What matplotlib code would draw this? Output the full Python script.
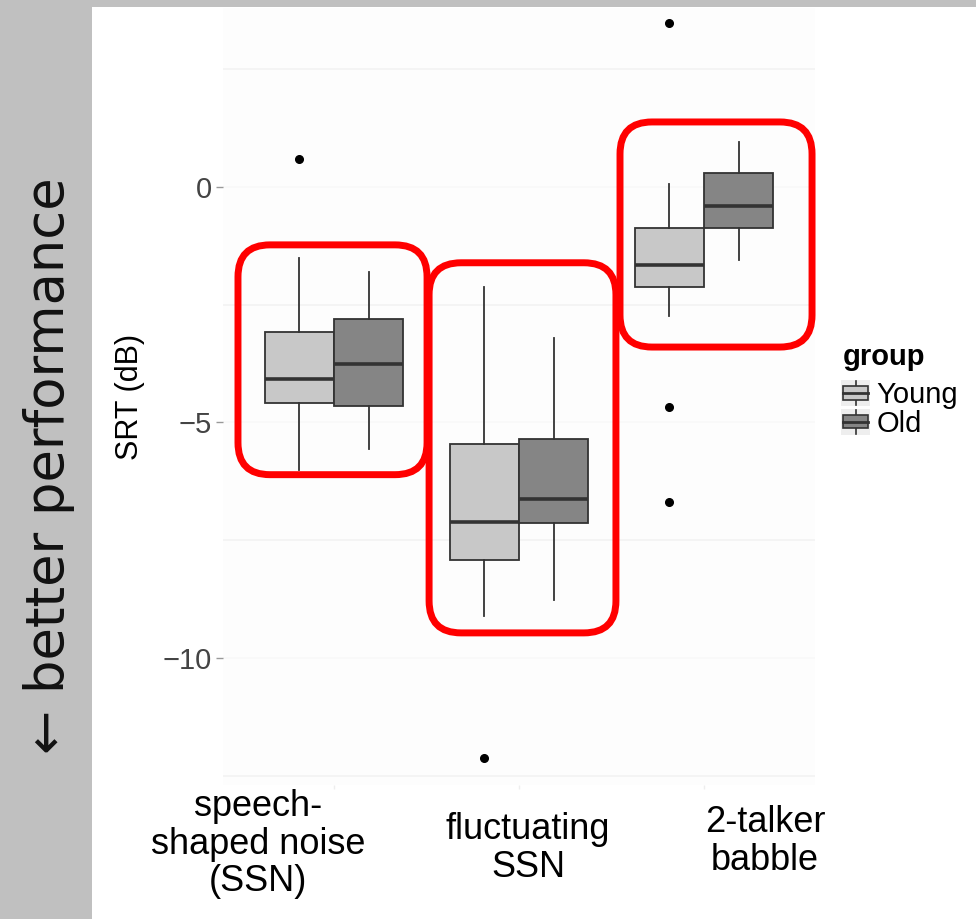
import matplotlib
matplotlib.use("Agg")
import matplotlib.pyplot as plt
from matplotlib.patches import Rectangle, FancyBboxPatch, Patch
from matplotlib.lines import Line2D
from matplotlib.legend_handler import HandlerBase

# data (SRT in dB)
conditions = ["speech-\nshaped noise\n(SSN)", "fluctuating\nSSN", "2-talker\nbabble"]
groups = ["Young", "Old"]

young_whislo = [-6.01, -9.12, -2.75]
young_q1 = [-4.59, -7.92, -2.13]
young_med = [-4.08, -7.12, -1.65]
young_q3 = [-3.09, -5.46, -0.88]
young_whishi = [-1.51, -2.12, 0.06]
young_fliers = [[0.60], [-12.12], [3.48, -4.68, -6.69]]

old_whislo = [-5.56, -8.77, -1.56]
old_q1 = [-4.66, -7.14, -0.87]
old_med = [-3.77, -6.62, -0.40]
old_q3 = [-2.80, -5.36, 0.29]
old_whishi = [-1.80, -3.20, 0.96]
old_fliers = [[], [], []]

yticks = [0, -5, -10]
ytick_labels = ["0", "\u22125", "\u221210"]

# red highlight frames drawn on the slide (data coords: x0, x1, y0, y1)
highlights = [(0.481, 1.503, -6.11, -1.23),
              (1.514, 2.524, -9.47, -1.61),
              (2.546, 3.584, -3.40, 1.38)]

colors = {"Young": "#c8c8c8", "Old": "#858585"}
edge = "#333333"

W, H = 976, 919
fig = plt.figure(figsize=(W / 100, H / 100), dpi=100)
fig.patch.set_facecolor("white")

ax = fig.add_axes([223 / W, 1 - 785 / H, (815 - 223) / W, (785 - 8) / H])
ax.set_facecolor("#fdfdfd")
ax.set_xlim(0.4, 3.6)
ax.set_ylim(-12.7, 3.8)

stats, pos, fills = [], [], []
for i in range(len(conditions)):
    for g, off in (("Young", -0.1875), ("Old", 0.1875)):
        if g == "Young":
            s = dict(med=young_med[i], q1=young_q1[i], q3=young_q3[i],
                     whislo=young_whislo[i], whishi=young_whishi[i], fliers=young_fliers[i])
        else:
            s = dict(med=old_med[i], q1=old_q1[i], q3=old_q3[i],
                     whislo=old_whislo[i], whishi=old_whishi[i], fliers=old_fliers[i])
        stats.append(s)
        pos.append(i + 1 + off)
        fills.append(colors[g])

bp = ax.bxp(stats, positions=pos, widths=0.375, patch_artist=True, showcaps=False,
            manage_ticks=False,
            boxprops=dict(edgecolor=edge, linewidth=1.3),
            medianprops=dict(color=edge, linewidth=2.6),
            whiskerprops=dict(color=edge, linewidth=1.3),
            flierprops=dict(marker="o", markerfacecolor="black", markeredgecolor="black",
                            markersize=5.5))
for patch, fc in zip(bp["boxes"], fills):
    patch.set_facecolor(fc)

for sp in ax.spines.values():
    sp.set_visible(False)

ax.set_yticks(yticks)
ax.set_yticklabels(ytick_labels, fontsize=21, color="#444444", family="Liberation Sans")
ax.set_yticks([2.5, -2.5, -7.5, -12.5], minor=True)
ax.tick_params(axis="y", which="major", length=5, width=1, color="#999999", pad=3)
ax.tick_params(axis="y", which="minor", length=0)
ax.set_xticks([1, 2, 3])
ax.set_xticklabels([])
ax.tick_params(axis="x", length=3, width=1, color="#eeeeee")
ax.grid(axis="y", which="minor", color="#f3f3f3", linewidth=1.2)
ax.grid(axis="y", which="major", color="#f9f9f9", linewidth=1.2)
ax.set_axisbelow(True)
ax.set_ylabel("SRT (dB)", fontsize=22, family="Liberation Sans", labelpad=13)


class BoxKey(HandlerBase):
    def create_artists(self, legend, orig_handle, xdescent, ydescent, width, height,
                       fontsize, trans):
        fc = orig_handle.get_facecolor()
        x0, y0 = -xdescent, -ydescent
        bg = Rectangle((x0, y0), width, height, facecolor="#eeeeee", edgecolor="none",
                       transform=trans)
        cx = x0 + width / 2
        wl = Line2D([cx, cx], [y0 + height * 0.04, y0 + height * 0.96], color=edge, lw=1.2,
                    transform=trans)
        bh = height * 0.52
        box = Rectangle((x0 + width * 0.07, y0 + (height - bh) / 2), width * 0.86, bh,
                        facecolor=fc, edgecolor=edge, lw=1.2, transform=trans)
        med = Line2D([x0 + width * 0.07, x0 + width * 0.93], [y0 + height / 2] * 2,
                     color=edge, lw=2, transform=trans)
        return [bg, wl, box, med]


handles = [Patch(facecolor=colors[g], edgecolor=edge) for g in groups]
fig.text(843 / W, 1 - 357 / H, "group", fontsize=21, weight="bold",
         family="Liberation Sans", ha="left", va="center")
fig.legend(handles, groups, loc="upper left",
           bbox_to_anchor=(841 / W, 1 - 380 / H), frameon=False,
           prop={"family": "Liberation Sans", "size": 21},
           handler_map={Patch: BoxKey()},
           handlelength=1.0, handleheight=0.98, handletextpad=0.22,
           labelspacing=0, borderpad=0, borderaxespad=0)

# red rounded frames
to_fig = ax.transData + fig.transFigure.inverted()
for x0, x1, y0, y1 in highlights:
    (fx0, fy0), (fx1, fy1) = to_fig.transform([(x0, y0), (x1, y1)])
    fig.add_artist(FancyBboxPatch((fx0, fy0), fx1 - fx0, fy1 - fy0,
                                  boxstyle=f"round,pad=0,rounding_size={32 / W}",
                                  mutation_aspect=W / H, transform=fig.transFigure,
                                  facecolor="none", edgecolor="#ff0000", linewidth=5,
                                  zorder=10))

# slide decorations: gray side strip and top band
fig.add_artist(Rectangle((0, 0), 92 / W, 1, transform=fig.transFigure,
                         facecolor="#c0c0c0", edgecolor="none", zorder=20))
fig.add_artist(Rectangle((92 / W, 1 - 7 / H), 1, 7 / H, transform=fig.transFigure,
                         facecolor="#c0c0c0", edgecolor="none", zorder=20))
fig.text(49 / W, 1 - 466 / H, "\u2190 better performance", rotation=90, fontsize=38,
         family="DejaVu Sans", ha="center", va="center", color="#111111", zorder=21)

# condition labels under the panel
label_pos = [(258, 789), (528, 812), (765, 805)]
for (lx, ly), txt in zip(label_pos, conditions):
    fig.text(lx / W, 1 - ly / H, txt, ha="center", va="top", fontsize=26,
             family="Liberation Sans", linespacing=1.1)

fig.savefig("out.png", dpi=100)
